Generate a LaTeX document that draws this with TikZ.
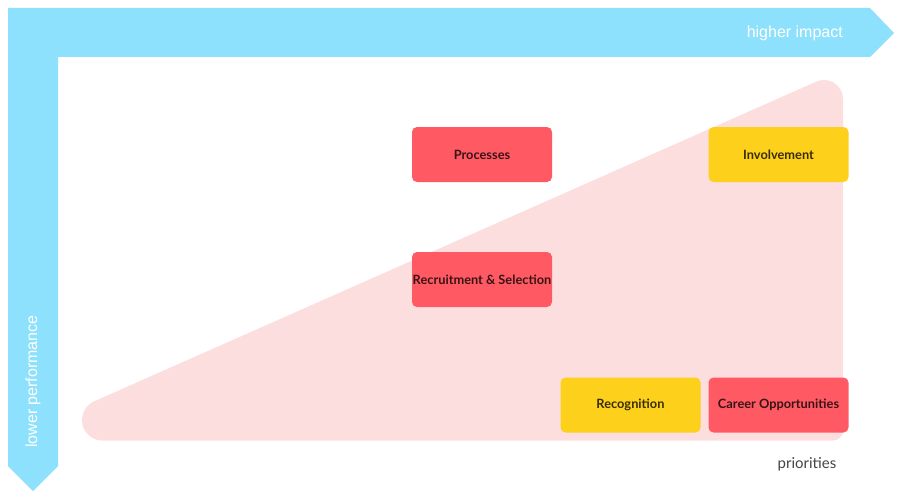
\documentclass[tikz,border=0pt]{standalone}
\usepackage{fontspec}
\setmainfont{Lato}
\newfontfamily\arrowfont{Liberation Sans}
\usepackage{xcolor}
\usepackage{tikz}
\usetikzlibrary{positioning}

\definecolor{bandblue}{HTML}{8EE1FC}
\definecolor{zonepink}{HTML}{FDDEDF}
\definecolor{itemred}{HTML}{FF5A63}
\definecolor{itemyellow}{HTML}{FDD01B}
\definecolor{labelgray}{HTML}{444444}

\begin{document}
\begin{tikzpicture}[
    x=1pt, y=-1pt,
    item/.style={rectangle, rounded corners=5pt, draw=none, minimum width=140pt, minimum height=55pt, inner sep=0pt, align=center, font=\fontsize{12.8}{15}\selectfont\bfseries, text=black, text opacity=0.78},
    redbox/.style={item, fill=itemred},
    yellowbox/.style={item, fill=itemyellow},
    bandtext/.style={text=white, inner sep=0pt, font=\arrowfont\fontsize{16}{18}\selectfont}
]
\useasboundingbox (0,0) rectangle (904,500);

% Axes band
\fill[bandblue] (8,8) -- (870,8) -- (894,33) -- (870,57) -- (58,57) -- (58,466) -- (33,491) -- (8,466) -- cycle;
\node[bandtext, anchor=east] (impact) at (843,33) {higher impact};
\node[bandtext, rotate=90, anchor=west] (perf) at (33,448) {lower performance};

% Priority zone
\fill[zonepink] (102.5,440.5) -- (833,440.5) arc[start angle=90, end angle=0, radius=10]
    -- (843,99) arc[start angle=0, end angle=-113.9, radius=19]
    -- (94.2,401.3) arc[start angle=246.1, end angle=90, radius=20.5] -- cycle;

% Nodes
\node[redbox] (proc) at (482,154.5) {Processes};
\node[yellowbox] (invol) at (778.5,154.5) {Involvement};
\node[redbox] (recruit) at (482,279.5) {Recruitment \& Selection};
\node[yellowbox] (recog) at (630.5,405) {Recognition};
\node[redbox] (career) at (778.5,405) {Career Opportunities};

\node[text=labelgray, font=\fontsize{15}{17}\selectfont] (prio) at (807,464) {priorities};

\end{tikzpicture}
\end{document}
